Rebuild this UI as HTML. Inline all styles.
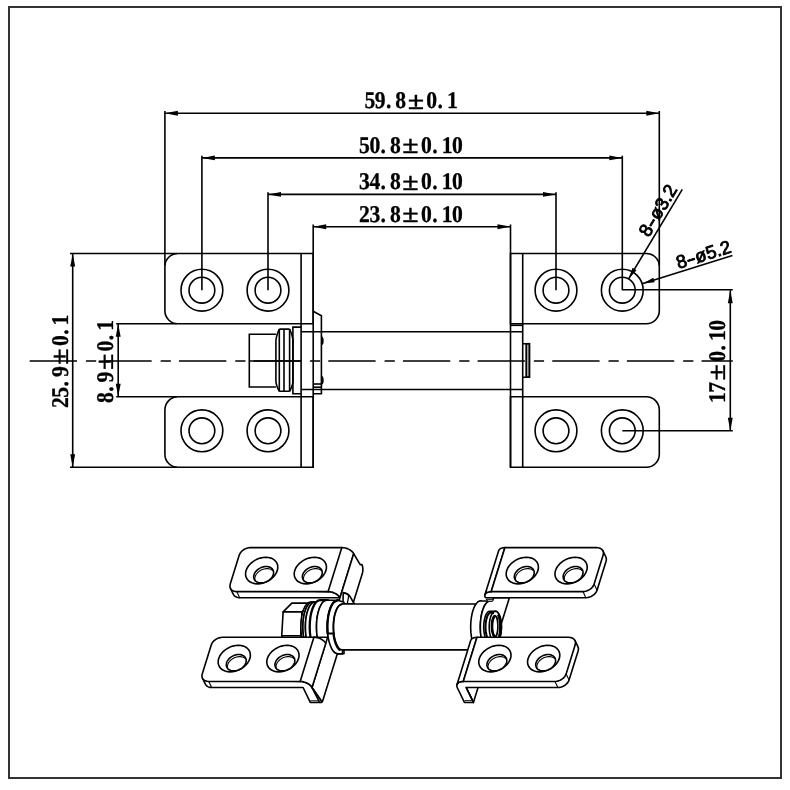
<!DOCTYPE html>
<html><head><meta charset="utf-8"><title>Hinge drawing</title>
<style>
html,body{margin:0;padding:0;background:#fff;}
body{width:790px;height:790px;overflow:hidden;}
svg{display:block;filter:grayscale(1)}
text{text-rendering:geometricPrecision}
.ln, .ln *{fill:none;stroke:#000;stroke-width:1.6;}
.ar{fill:#000;stroke:none}
.dt{font-family:"Liberation Serif",serif;font-weight:bold;fill:#000;stroke:#000;stroke-width:0.3;text-anchor:middle}
.dt .pm{font-weight:bold;font-size:25px}
.lt{font-family:"Liberation Sans",sans-serif;font-size:18.5px;fill:#000;stroke:#000;stroke-width:0.85;stroke-linejoin:round}
.iso path,.iso ellipse{fill:none;stroke:#000;stroke-width:1.6;stroke-linecap:round;stroke-linejoin:round} .iso .f{fill:#fff}
</style></head>
<body>
<svg width="790" height="790" viewBox="0 0 790 790">
<rect x="0" y="0" width="790" height="790" fill="#fff"/>
<rect x="9" y="7" width="772" height="771" fill="none" stroke="#333" stroke-width="2" shape-rendering="crispEdges"/>
<g class="ln">
<line x1="164.9" y1="113.2" x2="659.3" y2="113.2"/>
<line x1="164.9" y1="111.0" x2="164.9" y2="265.5"/>
<line x1="659.3" y1="111.0" x2="659.3" y2="265.5"/>
<line x1="201.9" y1="157.9" x2="622.3" y2="157.9"/>
<line x1="201.9" y1="155.70000000000002" x2="201.9" y2="290.2"/>
<line x1="622.3" y1="155.70000000000002" x2="622.3" y2="290.2"/>
<line x1="268.0" y1="194.4" x2="556.0" y2="194.4"/>
<line x1="268.0" y1="192.20000000000002" x2="268.0" y2="290.2"/>
<line x1="556.0" y1="192.20000000000002" x2="556.0" y2="290.2"/>
<line x1="313.2" y1="226.7" x2="510.5" y2="226.7"/>
<line x1="313.2" y1="224.5" x2="313.2" y2="467.3"/>
<line x1="510.5" y1="224.5" x2="510.5" y2="467.3"/>
</g>
<polygon class="ar" points="164.90,113.20 177.90,110.75 177.90,115.65"/>
<polygon class="ar" points="659.30,113.20 646.30,115.65 646.30,110.75"/>
<polygon class="ar" points="201.90,157.90 214.90,155.45 214.90,160.35"/>
<polygon class="ar" points="622.30,157.90 609.30,160.35 609.30,155.45"/>
<polygon class="ar" points="268.00,194.40 281.00,191.95 281.00,196.85"/>
<polygon class="ar" points="556.00,194.40 543.00,196.85 543.00,191.95"/>
<polygon class="ar" points="313.20,226.70 326.20,224.25 326.20,229.15"/>
<polygon class="ar" points="510.50,226.70 497.50,229.15 497.50,224.25"/>
<g class="ln">
<path d="M177.9,253.5 L313.2,253.5 L313.2,323.8 L177.9,323.8 A13,13 0 0 1 164.9,310.8 L164.9,266.5 A13,13 0 0 1 177.9,253.5 Z"/>
<path d="M177.9,396.8 L313.2,396.8 L313.2,467.3 L177.9,467.3 A13,13 0 0 1 164.9,454.3 L164.9,409.8 A13,13 0 0 1 177.9,396.8 Z"/>
<path d="M510.5,253.5 L646.3,253.5 A13,13 0 0 1 659.3,266.5 L659.3,310.8 A13,13 0 0 1 646.3,323.8 L510.5,323.8 L510.5,253.5 Z"/>
<path d="M510.5,396.8 L646.3,396.8 A13,13 0 0 1 659.3,409.8 L659.3,454.3 A13,13 0 0 1 646.3,467.3 L510.5,467.3 L510.5,396.8 Z"/>
<line x1="301.1" y1="253.5" x2="301.1" y2="467.3"/>
<line x1="522.7" y1="253.5" x2="522.7" y2="467.3"/>
<circle cx="201.9" cy="290.2" r="20.9"/>
<circle cx="201.9" cy="290.2" r="12.9"/>
<circle cx="201.9" cy="430.8" r="20.9"/>
<circle cx="201.9" cy="430.8" r="12.9"/>
<circle cx="268.0" cy="290.2" r="20.9"/>
<circle cx="268.0" cy="290.2" r="12.9"/>
<circle cx="268.0" cy="430.8" r="20.9"/>
<circle cx="268.0" cy="430.8" r="12.9"/>
<circle cx="556.0" cy="290.2" r="20.9"/>
<circle cx="556.0" cy="290.2" r="12.9"/>
<circle cx="556.0" cy="430.8" r="20.9"/>
<circle cx="556.0" cy="430.8" r="12.9"/>
<circle cx="622.3" cy="290.2" r="20.9"/>
<circle cx="622.3" cy="290.2" r="12.9"/>
<circle cx="622.3" cy="430.8" r="20.9"/>
<circle cx="622.3" cy="430.8" r="12.9"/>
<line x1="70.0" y1="253.5" x2="176.9" y2="253.5"/>
<line x1="70.0" y1="467.3" x2="176.9" y2="467.3"/>
<line x1="72.7" y1="253.5" x2="72.7" y2="467.3"/>
<line x1="116.2" y1="323.8" x2="176.9" y2="323.8"/>
<line x1="116.2" y1="396.8" x2="176.9" y2="396.8"/>
<line x1="118.2" y1="323.8" x2="118.2" y2="396.8"/>
<line x1="622.3" y1="289.8" x2="732.8" y2="289.8"/>
<line x1="622.3" y1="430.8" x2="732.8" y2="430.8"/>
<line x1="730.3" y1="290.2" x2="730.3" y2="430.8"/>
<line x1="301.1" y1="331.7" x2="522.7" y2="331.7"/>
<line x1="301.1" y1="389.5" x2="522.7" y2="389.5"/>
<line x1="510.5" y1="325.3" x2="522.7" y2="325.3"/>
<path d="M522.7,343.7 H529.4 V377.2 H522.7"/>
<line x1="526.4" y1="343.7" x2="526.4" y2="377.2"/>
<rect x="526.4" y="343.7" width="3" height="33.5" fill="#aaa" stroke="none"/>
<path d="M275.9,334.2 H249.3 V387.0 H275.9"/>
<line x1="249.3" y1="361.0" x2="301.1" y2="361.0"/>
<path d="M279.3,329.1 H289.6 M279.3,391.3 H289.6"/>
<line x1="279.3" y1="329.1" x2="279.3" y2="391.3"/>
<line x1="284.0" y1="329.1" x2="284.0" y2="391.3"/>
<line x1="289.6" y1="329.1" x2="289.6" y2="391.3"/>
<path d="M279.3,329.1 C277.5,333 276,337 275.9,341 V381 C276,385 277.5,388 279.3,391.3"/>
<path d="M289.6,329.1 C291.4,333 292.9,337 293.0,341 V381 C292.9,385 291.4,388 289.6,391.3"/>
<path d="M301.1,327.1 H292.9 V393.8 H301.1"/>
<path d="M313.2,311.2 L321.4,315.8 V393.8 H313.2"/>
<line x1="313.2" y1="384.0" x2="321.4" y2="384.0"/>
<line x1="313.2" y1="387.2" x2="321.4" y2="387.2"/>
<path d="M321.4,337 C323.4,337.5 323.4,344 321.4,344.5"/>
<path d="M321.4,376.5 C323.4,377 323.4,383.5 321.4,384"/>
</g>
<line class="ln" x1="29.7" y1="361.0" x2="732.8" y2="361.0" stroke-dasharray="47.3 9 10.2 8.15"/>
<polygon class="ar" points="72.70,253.50 75.15,266.50 70.25,266.50"/>
<polygon class="ar" points="72.70,467.30 70.25,454.30 75.15,454.30"/>
<polygon class="ar" points="118.20,323.80 120.65,336.80 115.75,336.80"/>
<polygon class="ar" points="118.20,396.80 115.75,383.80 120.65,383.80"/>
<polygon class="ar" points="730.30,290.20 732.75,303.20 727.85,303.20"/>
<polygon class="ar" points="730.30,430.80 727.85,417.80 732.75,417.80"/>
<g class="ln">
<line x1="682.3" y1="189.4" x2="628.6" y2="278.9"/>
<line x1="732.4" y1="255.4" x2="643.0" y2="283.4"/>
</g>
<polygon class="ar" points="628.60,278.90 632.54,267.86 636.49,270.22"/>
<polygon class="ar" points="643.00,283.40 653.29,277.77 654.66,282.16"/>
<text class="dt" transform="translate(364.6,108.2) scale(0.9,1)" font-size="24.0"><tspan x="5.74">5</tspan><tspan x="17.22">9</tspan><tspan x="26.69">.</tspan><tspan x="40.17">8</tspan><tspan x="57.06" dy="0.6" class="pm" textLength="18.22" lengthAdjust="spacingAndGlyphs">±</tspan><tspan dy="-0.6" font-size="1"> </tspan><tspan x="74.61">0</tspan><tspan x="84.08">.</tspan><tspan x="97.56">1</tspan></text>
<text class="dt" transform="translate(359.3,152.7) scale(0.9,1)" font-size="24.0"><tspan x="5.74">5</tspan><tspan x="17.22">0</tspan><tspan x="26.69">.</tspan><tspan x="40.17">8</tspan><tspan x="57.06" dy="0.6" class="pm" textLength="18.22" lengthAdjust="spacingAndGlyphs">±</tspan><tspan dy="-0.6" font-size="1"> </tspan><tspan x="74.61">0</tspan><tspan x="84.08">.</tspan><tspan x="97.56">1</tspan><tspan x="109.04">0</tspan></text>
<text class="dt" transform="translate(359.3,189.3) scale(0.9,1)" font-size="24.0"><tspan x="5.74">3</tspan><tspan x="17.22">4</tspan><tspan x="26.69">.</tspan><tspan x="40.17">8</tspan><tspan x="57.06" dy="0.6" class="pm" textLength="18.22" lengthAdjust="spacingAndGlyphs">±</tspan><tspan dy="-0.6" font-size="1"> </tspan><tspan x="74.61">0</tspan><tspan x="84.08">.</tspan><tspan x="97.56">1</tspan><tspan x="109.04">0</tspan></text>
<text class="dt" transform="translate(359.3,221.6) scale(0.9,1)" font-size="24.0"><tspan x="5.74">2</tspan><tspan x="17.22">3</tspan><tspan x="26.69">.</tspan><tspan x="40.17">8</tspan><tspan x="57.06" dy="0.6" class="pm" textLength="18.22" lengthAdjust="spacingAndGlyphs">±</tspan><tspan dy="-0.6" font-size="1"> </tspan><tspan x="74.61">0</tspan><tspan x="84.08">.</tspan><tspan x="97.56">1</tspan><tspan x="109.04">0</tspan></text>
<text class="dt" transform="translate(67.7,407.8) rotate(-90) scale(0.9,1)" font-size="24.0"><tspan x="5.74">2</tspan><tspan x="17.22">5</tspan><tspan x="26.69">.</tspan><tspan x="40.17">9</tspan><tspan x="57.06" dy="0.6" class="pm" textLength="18.22" lengthAdjust="spacingAndGlyphs">±</tspan><tspan dy="-0.6" font-size="1"> </tspan><tspan x="74.61">0</tspan><tspan x="84.08">.</tspan><tspan x="97.56">1</tspan></text>
<text class="dt" transform="translate(112.6,402.8) rotate(-90) scale(0.9,1)" font-size="24.0"><tspan x="5.74">8</tspan><tspan x="15.22">.</tspan><tspan x="28.69">9</tspan><tspan x="45.58" dy="0.6" class="pm" textLength="18.22" lengthAdjust="spacingAndGlyphs">±</tspan><tspan dy="-0.6" font-size="1"> </tspan><tspan x="63.13">0</tspan><tspan x="72.61">.</tspan><tspan x="86.08">1</tspan></text>
<text class="dt" transform="translate(724.8,402.8) rotate(-90) scale(0.9,1)" font-size="24.0"><tspan x="5.74">1</tspan><tspan x="17.22">7</tspan><tspan x="34.10" dy="0.6" class="pm" textLength="18.22" lengthAdjust="spacingAndGlyphs">±</tspan><tspan dy="-0.6" font-size="1"> </tspan><tspan x="51.65">0</tspan><tspan x="61.13">.</tspan><tspan x="74.61">1</tspan><tspan x="86.08">0</tspan></text>
<text class="lt" transform="translate(648.8,238.0) rotate(300.96)">8<tspan textLength="9.2" lengthAdjust="spacingAndGlyphs">-</tspan>ø3.2</text>
<text class="lt" transform="translate(678.5,269.0) rotate(342.61)">8<tspan textLength="9.2" lengthAdjust="spacingAndGlyphs">-</tspan>ø5.2</text>
<g class="iso">
<path class="f" d="M230.43,588.28 L233.36,594.36 L233.96,595.32 L234.77,596.14 L235.78,596.80 L236.95,597.29 L238.25,597.59 L239.66,597.69 L339.97,597.69 L339.97,597.69 L339.23,596.50 L338.17,595.36 L336.84,594.31 L335.29,593.39 L333.58,592.63 L331.77,592.07 L329.93,591.72 L328.13,591.61 Z"/>
<path style="stroke-width:1.1" d="M236.72,591.61 L239.66,597.69"/>
<path class="f" d="M239.26,555.11 L239.89,553.65 L240.83,552.24 L242.05,550.94 L243.50,549.80 L245.13,548.87 L246.87,548.17 L248.66,547.74 L250.43,547.60 L341.84,547.60 L341.84,547.60 L343.64,547.72 L345.47,548.06 L347.29,548.62 L349.00,549.38 L350.55,550.30 L351.88,551.35 L352.94,552.49 L353.68,553.68 L339.97,597.69 L339.97,597.69 L339.23,596.50 L338.17,595.36 L336.84,594.31 L335.29,593.39 L333.58,592.63 L331.77,592.07 L329.93,591.72 L328.13,591.61 L236.72,591.61 L236.72,591.61 L235.05,591.46 L233.52,591.04 L232.21,590.34 L231.16,589.41 L230.42,588.27 L230.01,586.97 L229.94,585.56 L230.23,584.10 Z"/>
<path d="M341.84,547.60 L328.13,591.61"/>
<path class="f" d="M277.28,570.57 L276.32,572.88 L274.92,575.11 L273.12,577.21 L270.97,579.10 L268.54,580.74 L265.90,582.07 L263.13,583.05 L260.31,583.64 L257.54,583.85 L254.89,583.64 L252.45,583.05 L250.29,582.07 L248.48,580.74 L247.07,579.10 L246.10,577.21 L245.60,575.11 L245.59,572.88 L246.07,570.57 L247.03,568.27 L248.43,566.04 L250.23,563.94 L252.38,562.04 L254.81,560.41 L257.45,559.08 L260.22,558.10 L263.04,557.50 L265.81,557.30 L268.46,557.50 L270.90,558.10 L273.06,559.08 L274.87,560.41 L276.29,562.04 L277.26,563.94 L277.75,566.04 L277.76,568.27 L277.28,570.57 Z"/>
<path class="f" d="M273.31,574.69 L272.56,576.40 L271.43,578.03 L269.96,579.51 L268.22,580.79 L266.27,581.80 L264.21,582.49 L262.13,582.85 L260.12,582.85 L258.26,582.49 L256.63,581.80 L255.31,580.79 L254.36,579.51 L253.82,578.03 L253.70,576.40 L254.02,574.69 L254.76,572.99 L255.89,571.36 L257.37,569.87 L259.11,568.60 L261.06,567.59 L263.11,566.89 L265.20,566.54 L267.21,566.54 L269.07,566.89 L270.70,567.59 L272.01,568.60 L272.97,569.87 L273.51,571.36 L273.63,572.99 L273.31,574.69 Z"/>
<path style="stroke-width:1.1" d="M255.13,580.69 L254.81,579.23 L254.88,577.66 L255.33,576.05 L256.15,574.47 L257.31,572.97 L258.76,571.62 L260.43,570.47 L262.28,569.56 L264.21,568.94 L266.17,568.62 L268.06,568.62 L269.81,568.94 L271.36,569.56 L272.64,570.47"/>
<path class="f" d="M325.93,570.57 L324.97,572.88 L323.57,575.11 L321.77,577.21 L319.62,579.10 L317.19,580.74 L314.55,582.07 L311.78,583.05 L308.96,583.64 L306.19,583.85 L303.54,583.64 L301.10,583.05 L298.94,582.07 L297.13,580.74 L295.72,579.10 L294.75,577.21 L294.25,575.11 L294.24,572.88 L294.72,570.57 L295.68,568.27 L297.08,566.04 L298.88,563.94 L301.03,562.04 L303.46,560.41 L306.10,559.08 L308.87,558.10 L311.69,557.50 L314.46,557.30 L317.11,557.50 L319.55,558.10 L321.71,559.08 L323.52,560.41 L324.94,562.04 L325.90,563.94 L326.40,566.04 L326.41,568.27 L325.93,570.57 Z"/>
<path class="f" d="M321.96,574.69 L321.21,576.40 L320.08,578.03 L318.61,579.51 L316.87,580.79 L314.92,581.80 L312.86,582.49 L310.78,582.85 L308.77,582.85 L306.90,582.49 L305.28,581.80 L303.96,580.79 L303.01,579.51 L302.47,578.03 L302.35,576.40 L302.67,574.69 L303.41,572.99 L304.54,571.36 L306.01,569.87 L307.76,568.60 L309.71,567.59 L311.76,566.89 L313.85,566.54 L315.86,566.54 L317.72,566.89 L319.35,567.59 L320.66,568.60 L321.62,569.87 L322.16,571.36 L322.28,572.99 L321.96,574.69 Z"/>
<path style="stroke-width:1.1" d="M303.78,580.69 L303.46,579.23 L303.53,577.66 L303.98,576.05 L304.80,574.47 L305.96,572.97 L307.40,571.62 L309.08,570.47 L310.93,569.56 L312.86,568.94 L314.82,568.62 L316.71,568.62 L318.46,568.94 L320.01,569.56 L321.29,570.47"/>
<path class="f" d="M602.94,550.93 L605.88,557.01 L606.22,557.97 L606.37,559.00 L606.32,560.09 L606.07,561.19 L597.04,590.17 L596.42,591.64 L595.48,593.05 L594.26,594.35 L592.80,595.49 L591.17,596.42 L589.43,597.12 L587.64,597.54 L585.87,597.69 L494.17,597.69 L486.29,597.69 L485.04,597.16 L484.80,596.05 L484.88,595.00 L485.28,594.04 L485.99,593.20 L486.97,592.52 L488.20,592.02 L489.64,591.71 L491.23,591.61 Z"/>
<path style="stroke-width:1.1" d="M582.94,591.61 L585.87,597.69"/>
<path style="stroke-width:1.1" d="M594.11,584.10 L597.04,590.17"/>
<path class="f" d="M504.94,547.60 L504.94,547.60 L503.11,547.74 L501.49,548.16 L500.17,548.83 L499.21,549.72 L498.64,550.80 L484.93,594.80 L484.93,594.80 L485.50,593.73 L486.46,592.83 L487.78,592.16 L489.40,591.75 L491.23,591.61 Z"/>
<path class="f" d="M504.94,547.60 L596.65,547.60 L596.65,547.60 L598.32,547.74 L599.85,548.17 L601.16,548.87 L602.21,549.80 L602.95,550.94 L603.36,552.24 L603.43,553.65 L603.14,555.11 L594.11,584.10 L593.48,585.56 L592.54,586.97 L591.32,588.27 L589.87,589.41 L588.24,590.34 L586.50,591.04 L584.71,591.46 L582.94,591.61 L491.23,591.61 Z"/>
<path class="f" d="M537.90,570.57 L536.94,572.88 L535.54,575.11 L533.74,577.21 L531.59,579.10 L529.16,580.74 L526.51,582.07 L523.75,583.05 L520.93,583.64 L518.16,583.85 L515.51,583.64 L513.07,583.05 L510.91,582.07 L509.10,580.74 L507.68,579.10 L506.71,577.21 L506.22,575.11 L506.21,572.88 L506.69,570.57 L507.64,568.27 L509.04,566.04 L510.85,563.94 L513.00,562.04 L515.43,560.41 L518.07,559.08 L520.84,558.10 L523.65,557.50 L526.43,557.30 L529.07,557.50 L531.51,558.10 L533.67,559.08 L535.49,560.41 L536.90,562.04 L537.87,563.94 L538.37,566.04 L538.38,568.27 L537.90,570.57 Z"/>
<path class="f" d="M533.92,574.69 L533.18,576.40 L532.05,578.03 L530.58,579.51 L528.83,580.79 L526.89,581.80 L524.83,582.49 L522.75,582.85 L520.73,582.85 L518.87,582.49 L517.25,581.80 L515.93,580.79 L514.98,579.51 L514.43,578.03 L514.32,576.40 L514.64,574.69 L515.38,572.99 L516.51,571.36 L517.98,569.87 L519.73,568.60 L521.67,567.59 L523.73,566.89 L525.81,566.54 L527.83,566.54 L529.69,566.89 L531.31,567.59 L532.63,568.60 L533.58,569.87 L534.13,571.36 L534.24,572.99 L533.92,574.69 Z"/>
<path style="stroke-width:1.1" d="M515.75,580.69 L515.43,579.23 L515.49,577.66 L515.95,576.05 L516.77,574.47 L517.93,572.97 L519.37,571.62 L521.05,570.47 L522.90,569.56 L524.83,568.94 L526.79,568.62 L528.68,568.62 L530.43,568.94 L531.98,569.56 L533.26,570.47"/>
<path class="f" d="M586.69,570.57 L585.74,572.88 L584.34,575.11 L582.54,577.21 L580.39,579.10 L577.95,580.74 L575.31,582.07 L572.54,583.05 L569.73,583.64 L566.96,583.85 L564.31,583.64 L561.87,583.05 L559.71,582.07 L557.89,580.74 L556.48,579.10 L555.51,577.21 L555.01,575.11 L555.01,572.88 L555.49,570.57 L556.44,568.27 L557.84,566.04 L559.64,563.94 L561.79,562.04 L564.23,560.41 L566.87,559.08 L569.64,558.10 L572.45,557.50 L575.22,557.30 L577.87,557.50 L580.31,558.10 L582.47,559.08 L584.29,560.41 L585.70,562.04 L586.67,563.94 L587.17,566.04 L587.17,568.27 L586.69,570.57 Z"/>
<path class="f" d="M582.72,574.69 L581.98,576.40 L580.85,578.03 L579.38,579.51 L577.63,580.79 L575.69,581.80 L573.63,582.49 L571.55,582.85 L569.53,582.85 L567.67,582.49 L566.05,581.80 L564.73,580.79 L563.78,579.51 L563.23,578.03 L563.12,576.40 L563.44,574.69 L564.18,572.99 L565.31,571.36 L566.78,569.87 L568.53,568.60 L570.47,567.59 L572.53,566.89 L574.61,566.54 L576.63,566.54 L578.49,566.89 L580.11,567.59 L581.43,568.60 L582.38,569.87 L582.93,571.36 L583.04,572.99 L582.72,574.69 Z"/>
<path style="stroke-width:1.1" d="M564.54,580.69 L564.22,579.23 L564.29,577.66 L564.74,576.05 L565.57,574.47 L566.72,572.97 L568.17,571.62 L569.85,570.47 L571.69,569.56 L573.63,568.94 L575.58,568.62 L577.47,568.62 L579.23,568.94 L580.77,569.56 L582.05,570.47"/>
<path d="M339.97,597.69 L338.60,604.20"/>
<path class="f" d="M291.84,603.15 L310.83,603.15 L302.13,611.88 L283.14,611.88 Z"/>
<path class="f" d="M283.14,611.88 L302.13,611.88 L300.70,635.68 L281.71,635.68 Z"/>
<path class="f" d="M281.71,635.68 L300.70,635.68 L307.98,650.75 L288.99,650.75 Z"/>
<path class="f" d="M310.83,603.15 L302.13,611.88 L300.70,635.68 L307.98,650.75 L316.68,642.02 L318.11,618.22 Z"/>
<path class="f" d="M310.58,601.99 A9.68,24.96 0 0 0 310.58,651.92 L312.58,651.92 A9.68,24.96 0 0 0 312.58,601.99 Z"/>
<path d="M312.58,601.99 A9.68,24.96 0 0 0 312.58,651.92"/>
<path class="f" d="M312.58,601.99 A9.68,24.96 0 0 0 312.58,651.92 L315.08,651.92 A9.68,24.96 0 0 0 315.08,601.99 Z"/>
<path d="M315.08,601.99 A9.68,24.96 0 0 0 315.08,651.92"/>
<path class="f" d="M315.08,601.99 A9.68,24.96 0 0 0 315.08,651.92 L319.38,651.92 A9.68,24.96 0 0 0 319.38,601.99 Z"/>
<path class="f" d="M320.08,600.18 A10.38,26.77 0 0 0 320.08,653.72 L326.88,653.72 A10.38,26.77 0 0 0 326.88,600.18 Z" style="stroke-width:2.3"/>
<path d="M326.88,600.18 A10.38,26.77 0 0 0 326.88,653.72"/>
<path class="f" d="M326.88,600.18 A10.38,26.77 0 0 0 326.88,653.72 L337.68,653.72 A10.38,26.77 0 0 0 337.68,600.18 Z"/>
<path d="M337.68,600.18 A10.38,26.77 0 0 0 337.68,653.72"/>
<path class="f" d="M353.68,553.68 L360.15,564.58 L361.95,564.58 L362.39,565.79 L362.71,567.26 L362.86,568.89 L362.85,570.57 L362.66,572.18 L362.33,573.61 L322.58,701.19 L321.83,701.69 L311.99,687.52 Z"/>
<path class="f" d="M343.2,592.6 Q347.6,593.2 350.0,596.4 L354.3,604 L343,604 Z"/>
<path d="M348.7,596.0 L347.3,603.6" style="stroke-width:1.3"/>
<path class="f" d="M202.44,678.11 L205.38,684.19 L205.98,685.15 L206.79,685.97 L207.79,686.63 L208.97,687.12 L210.27,687.42 L211.68,687.52 L303.09,687.52 L310.29,702.44 L321.79,702.44 L321.83,701.69 L311.99,687.52 L311.99,687.52 L311.25,686.33 L310.19,685.19 L308.86,684.14 L307.31,683.22 L305.59,682.46 L303.78,681.90 L301.95,681.56 L300.15,681.44 Z"/>
<path d="M311.99,687.52 L319.49,702.14"/>
<path style="stroke-width:1.0" d="M310.62,700.83 L318.72,700.83"/>
<path style="stroke-width:1.1" d="M208.74,681.44 L211.68,687.52"/>
<path class="f" d="M211.32,644.82 L211.94,643.35 L212.88,641.94 L214.10,640.64 L215.56,639.51 L217.19,638.57 L218.93,637.88 L220.72,637.45 L222.49,637.31 L313.90,637.31 L313.90,637.31 L315.69,637.42 L317.53,637.77 L319.34,638.33 L321.06,639.09 L322.61,640.01 L323.94,641.06 L325.00,642.20 L325.74,643.38 L311.99,687.52 L311.99,687.52 L311.25,686.33 L310.19,685.19 L308.86,684.14 L307.31,683.22 L305.59,682.46 L303.78,681.90 L301.95,681.56 L300.15,681.44 L208.74,681.44 L208.74,681.44 L207.06,681.29 L205.54,680.87 L204.23,680.17 L203.18,679.24 L202.44,678.10 L202.03,676.80 L201.96,675.39 L202.25,673.93 Z"/>
<path d="M313.90,637.31 L300.15,681.44"/>
<path class="f" d="M249.86,658.59 L248.91,660.89 L247.51,663.13 L245.70,665.23 L243.55,667.12 L241.12,668.76 L238.48,670.08 L235.71,671.06 L232.90,671.66 L230.12,671.86 L227.48,671.66 L225.04,671.06 L222.88,670.08 L221.06,668.76 L219.65,667.12 L218.68,665.23 L218.18,663.13 L218.17,660.89 L218.66,658.59 L219.61,656.29 L221.01,654.05 L222.81,651.95 L224.96,650.06 L227.40,648.42 L230.04,647.10 L232.81,646.12 L235.62,645.52 L238.39,645.32 L241.04,645.52 L243.48,646.12 L245.64,647.10 L247.45,648.42 L248.87,650.06 L249.84,651.95 L250.33,654.05 L250.34,656.29 L249.86,658.59 Z"/>
<path class="f" d="M245.89,662.71 L245.15,664.41 L244.02,666.04 L242.55,667.53 L240.80,668.80 L238.86,669.81 L236.80,670.51 L234.71,670.87 L232.70,670.87 L230.84,670.51 L229.21,669.81 L227.90,668.80 L226.95,667.53 L226.40,666.04 L226.28,664.41 L226.61,662.71 L227.35,661.00 L228.48,659.37 L229.95,657.89 L231.69,656.62 L233.64,655.61 L235.70,654.91 L237.78,654.55 L239.80,654.55 L241.66,654.91 L243.28,655.61 L244.60,656.62 L245.55,657.89 L246.09,659.37 L246.21,661.00 L245.89,662.71 Z"/>
<path style="stroke-width:1.1" d="M227.71,668.71 L227.39,667.24 L227.46,665.67 L227.91,664.07 L228.73,662.48 L229.89,660.98 L231.34,659.63 L233.02,658.48 L234.86,657.58 L236.80,656.95 L238.75,656.63 L240.64,656.63 L242.40,656.95 L243.94,657.58 L245.22,658.48"/>
<path class="f" d="M298.51,658.59 L297.56,660.89 L296.16,663.13 L294.35,665.23 L292.20,667.12 L289.77,668.76 L287.13,670.08 L284.36,671.06 L281.55,671.66 L278.77,671.86 L276.13,671.66 L273.69,671.06 L271.53,670.08 L269.71,668.76 L268.30,667.12 L267.33,665.23 L266.83,663.13 L266.82,660.89 L267.30,658.59 L268.26,656.29 L269.66,654.05 L271.46,651.95 L273.61,650.06 L276.05,648.42 L278.69,647.10 L281.46,646.12 L284.27,645.52 L287.04,645.32 L289.69,645.52 L292.13,646.12 L294.29,647.10 L296.10,648.42 L297.52,650.06 L298.49,651.95 L298.98,654.05 L298.99,656.29 L298.51,658.59 Z"/>
<path class="f" d="M294.54,662.71 L293.80,664.41 L292.67,666.04 L291.20,667.53 L289.45,668.80 L287.51,669.81 L285.45,670.51 L283.36,670.87 L281.35,670.87 L279.49,670.51 L277.86,669.81 L276.55,668.80 L275.59,667.53 L275.05,666.04 L274.93,664.41 L275.25,662.71 L276.00,661.00 L277.13,659.37 L278.60,657.89 L280.34,656.62 L282.29,655.61 L284.35,654.91 L286.43,654.55 L288.44,654.55 L290.31,654.91 L291.93,655.61 L293.25,656.62 L294.20,657.89 L294.74,659.37 L294.86,661.00 L294.54,662.71 Z"/>
<path style="stroke-width:1.1" d="M276.36,668.71 L276.04,667.24 L276.11,665.67 L276.56,664.07 L277.38,662.48 L278.54,660.98 L279.99,659.63 L281.67,658.48 L283.51,657.58 L285.45,656.95 L287.40,656.63 L289.29,656.63 L291.04,656.95 L292.59,657.58 L293.87,658.48"/>
<path d="M313.90,637.31 L326.90,637.31"/>
<path class="f" d="M337.78,600.18 A10.38,26.77 0 0 0 337.78,653.72 L344,653.72 L344,602.18 Z"/>
<path style="stroke-width:2.2" d="M337.78,600.18 L333.76,602.27 L332.21,604.36 L331.11,606.45 L330.25,608.54 L329.55,610.63 L328.99,612.71 L328.53,614.80 L328.16,616.89 L327.87,618.98 L327.65,621.07 L327.50,623.16 L327.42,625.25 L327.40,627.33 L327.44,629.42 L327.55,631.51 L327.73,633.60"/>
<path style="stroke-width:2.0" d="M327.70,633.60 L333.60,633.60"/>
<path d="M337.78,653.72 L342.40,653.92 L342.60,649.91"/>
<path class="f" d="M342.20,604.00 A8.90,22.96 0 0 0 342.20,649.91 L479.50,649.91 A8.90,22.96 0 0 0 479.50,604.00 Z"/>
<path d="M342.20,604.00 L338.70,605.85 L337.35,607.70 L336.40,609.55 L335.65,611.40 L335.06,613.25 L334.58,615.10 L334.19,616.95 L333.88,618.80 L333.64,620.65 L333.47,622.50 L333.36,624.35 L333.30,626.20 L333.31,628.05 L333.37,629.90 L333.50,631.75 L333.68,633.60"/>
<path style="stroke-width:2.2" d="M333.47,633.60 L333.59,634.62 L333.73,635.63 L333.90,636.65 L334.08,637.67 L334.29,638.69 L334.53,639.70 L334.79,640.72 L335.08,641.74 L335.41,642.75 L335.78,643.77 L336.19,644.79 L336.67,645.80 L337.21,646.82 L337.85,647.84 L338.65,648.86 L339.72,649.87"/>
<path class="f" d="M482.24,601.04 L480.73,600.79 L479.23,601.11 L477.75,602.02 L476.35,603.47 L475.05,605.45 L473.87,607.90 L472.85,610.78 L472.01,614.01 L471.36,617.54 L470.92,621.27 L470.70,625.13 L470.71,629.03 L470.94,632.88 L471.39,636.60 L472.05,640.11 L472.90,643.32 L473.93,646.17 L475.11,648.60 L476.42,650.54 L477.83,651.96 L479.30,652.83 L480.81,653.12 L490.45,653.12 L488.94,652.83 L487.47,651.96 L486.06,650.54 L484.75,648.60 L483.57,646.17 L482.54,643.32 L481.69,640.11 L481.03,636.60 L480.58,632.88 L480.35,629.03 L480.34,625.13 L480.56,621.27 L481.00,617.54 L481.65,614.01 L482.49,610.78 L483.51,607.90 L484.69,605.45 L485.99,603.47 L487.40,602.02 L488.87,601.11 L490.37,600.79 L491.88,601.04 Z"/>
<path class="f" d="M490.45,653.12 L488.94,652.83 L487.47,651.96 L486.06,650.54 L484.75,648.60 L483.57,646.17 L482.54,643.32 L481.69,640.11 L481.03,636.60 L480.58,632.88 L480.35,629.03 L480.34,625.13 L480.56,621.27 L481.00,617.54 L481.65,614.01 L482.49,610.78 L483.51,607.90 L484.69,605.45 L485.99,603.47 L487.40,602.02 L488.87,601.11 L490.37,600.79 L491.88,601.04 L493.88,598.00 L509.30,598.00 L496.60,638.80 L490.45,638.80 Z"/>
<path class="f" style="stroke-width:1.0" d="M486.30,599.30 L493.60,599.30 L492.60,601.20 L488.30,601.20 Z"/>
<path class="f" d="M489.80,611.22 L488.74,611.46 L487.72,612.17 L486.75,613.33 L485.88,614.90 L485.13,616.84 L484.52,619.09 L484.07,621.57 L483.79,624.22 L483.70,626.95 L483.79,629.68 L484.07,632.33 L484.51,634.82 L485.12,637.07 L485.87,639.00 L486.74,640.58 L487.71,641.74 L488.73,642.45 L489.79,642.68 L495.31,642.68 L496.37,642.45 L497.40,641.74 L498.36,640.58 L499.23,639.00 L499.99,637.07 L500.60,634.82 L501.05,632.33 L501.32,629.68 L501.42,626.95 L501.33,624.22 L501.05,621.57 L500.60,619.09 L499.99,616.84 L499.24,614.90 L498.37,613.33 L497.41,612.17 L496.38,611.46 L495.32,611.22 Z"/>
<path class="f" d="M491.50,639.22 L492.38,640.75 L493.35,641.85 L494.38,642.50 L495.45,642.68 L496.50,642.38 L497.52,641.62 L498.48,640.40 L499.34,638.78 L500.07,636.80 L500.66,634.52 L501.09,632.01 L501.35,629.35 L501.42,626.61 L501.30,623.88 L501.00,621.25 L500.54,618.79 L499.91,616.58 L499.14,614.68 L498.26,613.16 L497.28,612.06 L496.25,611.40 L495.19,611.22 L494.13,611.52 L493.11,612.29 L492.16,613.50 L491.30,615.12 L490.57,617.11 L489.97,619.39 L489.54,621.90 L489.29,624.56 L489.22,627.30 L489.34,630.02 L489.63,632.65 L490.10,635.11 L490.73,637.33 L491.50,639.22 Z"/>
<path style="stroke-width:2.0" d="M493.14,613.22 L492.19,612.57 L491.20,612.34 L490.22,612.57 L489.26,613.23 L488.37,614.30 L487.56,615.76 L486.86,617.56 L486.29,619.65 L485.88,621.96 L485.62,624.42 L485.53,626.95 L485.62,629.49 L485.87,631.95 L486.29,634.26 L486.85,636.34 L487.55,638.14 L488.36,639.60 L489.25,640.68 L490.21,641.34 L491.19,641.56"/>
<ellipse cx="495.0" cy="626.2" rx="2.9" ry="10.3" class="f"/>
<path d="M494.6,616.2 C491.2,620 491.2,632 494.2,636.3" style="stroke-width:2.6"/>
<path d="M498.3,615.5 C500.6,620 500.8,631 499.0,637.0" style="stroke-width:2.2"/>
<path class="f" d="M466.18,687.52 L473.39,702.44 L485.09,664.88 L477.88,649.96 Z"/>
<path class="f" d="M575.00,640.63 L577.93,646.71 L578.28,647.67 L578.43,648.71 L578.38,649.79 L578.13,650.90 L569.06,680.01 L568.44,681.47 L567.49,682.88 L566.27,684.18 L564.82,685.32 L563.19,686.25 L561.45,686.95 L559.66,687.37 L557.89,687.52 L466.18,687.52 L473.39,702.44 L464.41,702.44 L457.45,688.02 L457.06,686.99 L456.82,685.88 L456.90,684.83 L457.30,683.87 L458.00,683.04 L458.99,682.36 L460.22,681.85 L461.66,681.54 L463.25,681.44 Z"/>
<path d="M466.18,687.52 L473.39,702.44"/>
<path style="stroke-width:1.0" d="M465.03,700.68 L471.43,700.68"/>
<path style="stroke-width:1.1" d="M554.96,681.44 L557.89,687.52"/>
<path style="stroke-width:1.1" d="M566.13,673.93 L569.06,680.01"/>
<path class="f" d="M477.00,637.31 L477.00,637.31 L475.16,637.45 L473.55,637.86 L472.23,638.53 L471.26,639.43 L470.70,640.50 L456.95,684.64 L456.95,684.64 L457.52,683.56 L458.48,682.66 L459.80,681.99 L461.41,681.58 L463.25,681.44 Z"/>
<path class="f" d="M477.00,637.31 L568.70,637.31 L568.70,637.31 L570.38,637.45 L571.90,637.88 L573.22,638.57 L574.26,639.51 L575.01,640.64 L575.42,641.94 L575.48,643.35 L575.19,644.82 L566.13,673.93 L565.50,675.39 L564.56,676.80 L563.34,678.10 L561.89,679.24 L560.26,680.17 L558.51,680.87 L556.72,681.29 L554.96,681.44 L463.25,681.44 Z"/>
<path class="f" d="M510.48,658.59 L509.52,660.89 L508.12,663.13 L506.32,665.23 L504.17,667.12 L501.74,668.76 L499.10,670.08 L496.33,671.06 L493.51,671.66 L490.74,671.86 L488.10,671.66 L485.65,671.06 L483.49,670.08 L481.68,668.76 L480.27,667.12 L479.30,665.23 L478.80,663.13 L478.79,660.89 L479.27,658.59 L480.23,656.29 L481.63,654.05 L483.43,651.95 L485.58,650.06 L488.01,648.42 L490.65,647.10 L493.42,646.12 L496.24,645.52 L499.01,645.32 L501.66,645.52 L504.10,646.12 L506.26,647.10 L508.07,648.42 L509.49,650.06 L510.46,651.95 L510.95,654.05 L510.96,656.29 L510.48,658.59 Z"/>
<path class="f" d="M506.51,662.71 L505.76,664.41 L504.63,666.04 L503.16,667.53 L501.42,668.80 L499.47,669.81 L497.41,670.51 L495.33,670.87 L493.32,670.87 L491.46,670.51 L489.83,669.81 L488.51,668.80 L487.56,667.53 L487.02,666.04 L486.90,664.41 L487.22,662.71 L487.96,661.00 L489.10,659.37 L490.57,657.89 L492.31,656.62 L494.26,655.61 L496.31,654.91 L498.40,654.55 L500.41,654.55 L502.27,654.91 L503.90,655.61 L505.21,656.62 L506.17,657.89 L506.71,659.37 L506.83,661.00 L506.51,662.71 Z"/>
<path style="stroke-width:1.1" d="M488.33,668.71 L488.01,667.24 L488.08,665.67 L488.53,664.07 L489.35,662.48 L490.51,660.98 L491.96,659.63 L493.63,658.48 L495.48,657.58 L497.42,656.95 L499.37,656.63 L501.26,656.63 L503.01,656.95 L504.56,657.58 L505.84,658.48"/>
<path class="f" d="M559.28,658.59 L558.32,660.89 L556.92,663.13 L555.12,665.23 L552.97,667.12 L550.54,668.76 L547.89,670.08 L545.12,671.06 L542.31,671.66 L539.54,671.86 L536.89,671.66 L534.45,671.06 L532.29,670.08 L530.48,668.76 L529.06,667.12 L528.09,665.23 L527.60,663.13 L527.59,660.89 L528.07,658.59 L529.02,656.29 L530.42,654.05 L532.23,651.95 L534.38,650.06 L536.81,648.42 L539.45,647.10 L542.22,646.12 L545.03,645.52 L547.81,645.32 L550.45,645.52 L552.89,646.12 L555.05,647.10 L556.87,648.42 L558.28,650.06 L559.25,651.95 L559.75,654.05 L559.76,656.29 L559.28,658.59 Z"/>
<path class="f" d="M555.30,662.71 L554.56,664.41 L553.43,666.04 L551.96,667.53 L550.21,668.80 L548.27,669.81 L546.21,670.51 L544.13,670.87 L542.11,670.87 L540.25,670.51 L538.63,669.81 L537.31,668.80 L536.36,667.53 L535.81,666.04 L535.70,664.41 L536.02,662.71 L536.76,661.00 L537.89,659.37 L539.36,657.89 L541.11,656.62 L543.05,655.61 L545.11,654.91 L547.19,654.55 L549.21,654.55 L551.07,654.91 L552.69,655.61 L554.01,656.62 L554.96,657.89 L555.51,659.37 L555.62,661.00 L555.30,662.71 Z"/>
<path style="stroke-width:1.1" d="M537.13,668.71 L536.81,667.24 L536.87,665.67 L537.33,664.07 L538.15,662.48 L539.31,660.98 L540.75,659.63 L542.43,658.48 L544.28,657.58 L546.21,656.95 L548.16,656.63 L550.06,656.63 L551.81,656.95 L553.36,657.58 L554.64,658.48"/>
</g>
</svg>
</body></html>
